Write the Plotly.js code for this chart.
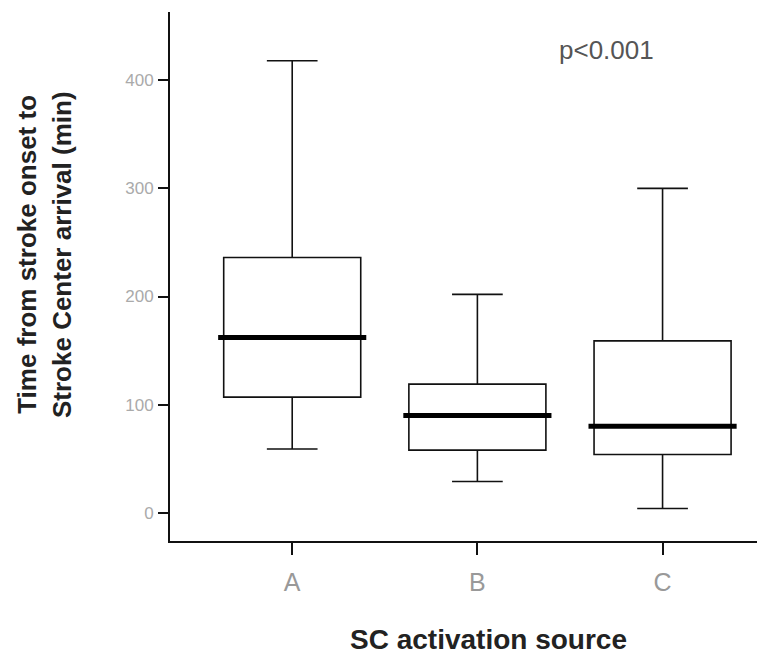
<!DOCTYPE html>
<html>
<head>
<meta charset="utf-8">
<script src="https://cdn.plot.ly/plotly-3.0.1.min.js"></script>
<style>html,body{margin:0;padding:0;background:#fff;}#chart{width:760px;height:657px;}</style>
</head>
<body>
<div id="chart"></div>
<script>
var categories = ["A", "B", "C"];
var lowerWhisker = [59, 29, 4];
var q1Values = [107, 58, 54];
var medians = [162, 90, 80];
var q3Values = [236, 119, 159];
var upperWhisker = [418, 202, 300];
var yTickValues = [0, 100, 200, 300, 400];
var pText = "p<0.001";
var yTitleLines = ["Time from stroke onset to", "Stroke Center arrival (min)"];
var xTitle = "SC activation source";

var boxTrace = {
  type: "box",
  x: categories,
  q1: q1Values,
  median: medians,
  q3: q3Values,
  lowerfence: lowerWhisker,
  upperfence: upperWhisker,
  width: 0.74,
  boxpoints: false,
  fillcolor: "rgba(255,255,255,0)",
  line: {color: "#111", width: 1.6},
  whiskerwidth: 0.37,
  hoverinfo: "skip",
  showlegend: false
};

var halfWidth = 0.40;
var shapes = medians.map(function (m, i) {
  return {
    type: "line", xref: "x", yref: "y",
    x0: i - halfWidth, x1: i + halfWidth, y0: m, y1: m,
    line: {color: "#000", width: 5}
  };
});

var annotations = [{
  text: pText, xref: "paper", yref: "paper",
  x: 0.744, y: 0.928, xanchor: "center", yanchor: "middle",
  showarrow: false, font: {size: 26, color: "#555"}
}, {
  text: "<b>" + xTitle + "</b>", xref: "paper", yref: "paper",
  x: 0.5434, y: -0.187, xanchor: "center", yanchor: "middle",
  showarrow: false, font: {size: 28, color: "#222"}
}];
var yTitleX = [-0.244, -0.184];
yTitleLines.forEach(function (t, i) {
  annotations.push({
    text: "<b>" + t + "</b>", xref: "paper", yref: "paper",
    x: yTitleX[i], y: 0.5425, xanchor: "center", yanchor: "middle",
    textangle: -90, showarrow: false,
    font: {size: 26, color: "#222"}
  });
});

var layout = {
  width: 760, height: 657,
  margin: {l: 170, r: 3, t: 12, b: 116},
  paper_bgcolor: "#fff", plot_bgcolor: "#fff",
  font: {family: "Liberation Sans, Arial, sans-serif", color: "#222"},
  xaxis: {
    type: "category",
    range: [-0.66, 2.51],
    showline: true, linecolor: "#111", linewidth: 2,
    ticks: "outside", ticklen: 12, tickwidth: 2, tickcolor: "#111",
    ticklabelstandoff: 6,
    showgrid: false, zeroline: false,
    tickfont: {size: 25, color: "#999"}
  },
  yaxis: {
    range: [-26, 463],
    tickvals: yTickValues,
    showline: true, linecolor: "#111", linewidth: 2,
    ticks: "outside", ticklen: 10, tickwidth: 2, tickcolor: "#111",
    ticklabelstandoff: 1,
    showgrid: false, zeroline: false,
    tickfont: {size: 17, color: "#aaa"}
  },
  shapes: shapes,
  annotations: annotations
};

Plotly.newPlot("chart", [boxTrace], layout, {displayModeBar: false, staticPlot: true});
</script>
</body>
</html>
